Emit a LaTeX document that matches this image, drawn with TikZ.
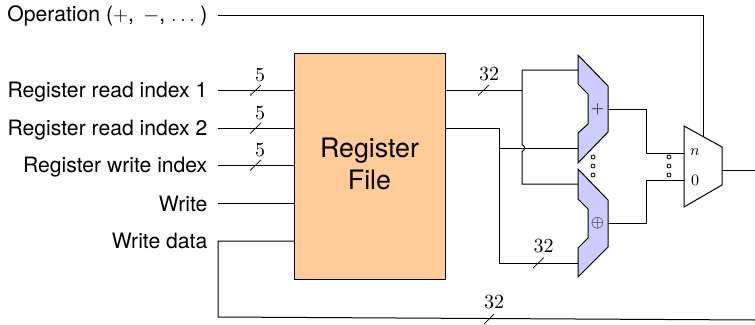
\documentclass[tikz,border=0pt]{standalone}
\usepackage{fontspec}
\setsansfont{TeX Gyre Heros}
\tikzset{
  x=1pt,y=-1pt,
  wire/.style={draw=black,line width=1pt},
  tickmark/.style={draw=black,line width=0.7pt},
  inlabel/.style={anchor=base east,inner sep=0pt,font=\sffamily\fontsize{21.15}{24}\selectfont},
  buswidth/.style={inner sep=0pt,scale=2,transform shape},
  alu/.style={draw=black,line width=1pt,fill=blue!20},
  dotmark/.style={circle,draw=black,line width=0.8pt,fill=white,inner sep=0pt,minimum size=4pt},
  muxlabel/.style={inner sep=0pt,scale=1.6,transform shape},
  alulabel/.style={inner sep=0pt,scale=1.7,transform shape},
}
\begin{document}
\begin{tikzpicture}
\useasboundingbox (0,0) rectangle (755,324);
% Register file
\node[draw=black,line width=1pt,fill={rgb,255:red,255;green,204;blue,153},minimum width=151pt,minimum height=226pt,inner sep=0pt] (rf) at (369.5,166) {};
\node[inner sep=0pt,align=center,font=\sffamily\fontsize{26.8}{32}\selectfont] (rflabel) at (369.5,164) {Register\\File};
% Input labels
\node[inlabel] (op) at (207.5,21.5) {Operation ($+$,\,\ $-$,\ $\ldots$\,\kern0.08em)};
\node[inlabel] (r1) at (207.5,97) {Register read index 1};
\node[inlabel] (r2) at (207.5,135) {Register read index 2};
\node[inlabel] (rw) at (207.5,172) {Register write index};
\node[inlabel] (we) at (207.5,211) {Write};
\node[inlabel] (wd) at (207.5,248.5) {Write data};
% Anchors on the register file
\coordinate (rfr1) at (294,90);
\coordinate (rfr2) at (294,128);
\coordinate (rfrw) at (294,165);
\coordinate (rfwe) at (294,203);
\coordinate (rfwd) at (294,241);
\coordinate (rfo1) at (445,90);
\coordinate (rfo2) at (445,128);
% ALU shapes
\path[alu] (578,55) -- (608,86) -- (608,132) -- (578,163) -- (578,133) -- (588,124) -- (588,94) -- (578,84) -- cycle;
\path[alu] (578,169) -- (608,200) -- (608,247) -- (578,277) -- (578,248) -- (588,238) -- (588,209) -- (578,199) -- cycle;
\node[alulabel] (add) at (597.5,109) {$+$};
\node[alulabel] (xor) at (597.5,223) {$\oplus$};
% Output mux
\path[draw=black,line width=1pt,fill=white] (684,126) -- (722,147) -- (722,185) -- (684,207) -- cycle;
\node[muxlabel] (mn) at (695,152) {$n$};
\node[muxlabel] (m0) at (695,180) {$0$};
% Named wire points
\coordinate (a1) at (578,70);
\coordinate (a2) at (578,148);
\coordinate (x1) at (578,184);
\coordinate (x2) at (578,263);
\coordinate (ao) at (608,109);
\coordinate (xo) at (608,223);
\coordinate (mi1) at (684,153);
\coordinate (mi0) at (684,180);
\coordinate (ms) at (703,136.5);
\coordinate (mo) at (722,170);
\coordinate (oe) at (755,170);
\coordinate (fb) at (755,320);
% Wires
\draw[wire] (218,15) -- (703,15) -- (ms);
\draw[wire] (218,90) -- (rfr1);
\draw[wire] (218,128) -- (rfr2);
\draw[wire] (218,165) -- (rfrw);
\draw[wire] (218,203) -- (rfwe);
\draw[wire] (rfwd) -- (218,241) -- (218,317) -- (fb);
\draw[wire] (rfo1) -- (522,90);
\draw[wire] (a1) -- (522,70) -- (522,144.5) .. controls (525.5,146) and (525.5,150) .. (522,151.5) -- (522,184) -- (x1);
\draw[wire] (rfo2) -- (499,128) -- (499,263) -- (x2);
\draw[wire] (499,148) -- (a2);
\draw[wire] (ao) -- (646,109) -- (646,153) -- (mi1);
\draw[wire] (xo) -- (646,223) -- (646,180) -- (mi0);
\draw[wire] (mo) -- (oe);
% Bus ticks and widths
\foreach \n/\y in {a/90,b/128,c/165}{
  \draw[tickmark] (250,\y+5.5) -- (261,\y-5);
  \node[buswidth] (w\n) at (260,\y-15.3) {$5$};
}
\draw[tickmark] (478,95.5) -- (489,85);
\node[buswidth] (w32a) at (489,74.5) {$32$};
\draw[tickmark] (533,268) -- (544,257.5);
\node[buswidth] (w32b) at (543.5,246.5) {$32$};
\draw[tickmark] (484,324) -- (494,314);
\node[buswidth] (w32c) at (494,302.5) {$32$};
% Dots
\foreach \n/\y in {1/157,2/166,3/175}{
  \node[dotmark] (da\n) at (593,\y) {};
  \node[dotmark] (db\n) at (669,\y) {};
}
\end{tikzpicture}
\end{document}
